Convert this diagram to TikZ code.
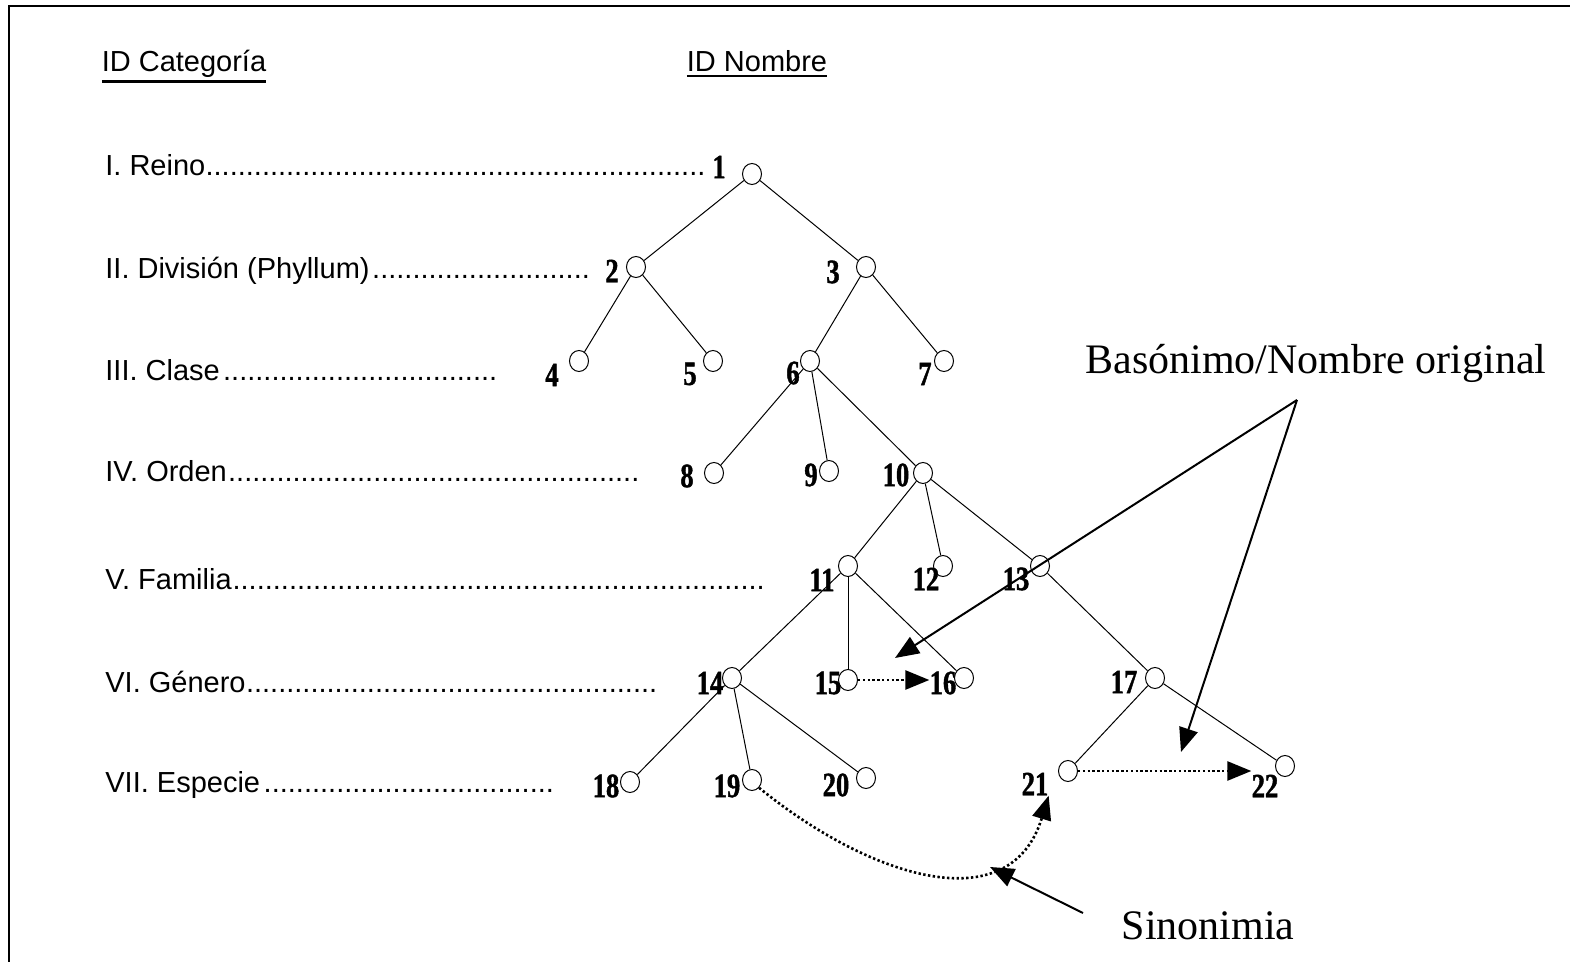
\documentclass[tikz,border=0pt]{standalone}
\usepackage{fontspec}
\setmainfont{Liberation Serif}
\newfontfamily\catfont{Liberation Sans}
\newfontfamily\numfont[FakeStretch=0.78,FakeBold=1.2]{Liberation Serif}
\usetikzlibrary{shapes.geometric,arrows.meta}
\newcommand{\dotrow}[2]{\makebox[#1][l]{#2\cleaders\hbox{.}\hfill}}
\newcommand{\hdr}[1]{\vtop{\hbox{#1}\kern1.2pt\hrule height 1.1pt}}

\begin{document}
\begin{tikzpicture}[x=0.5pt,y=-0.5pt,
    vert/.style={draw,ellipse,inner sep=0pt,minimum width=9.5pt,minimum height=10.5pt,line width=0.5pt},
    num/.style={inner sep=0pt,font=\numfont\bfseries\fontsize{17}{17}\selectfont},
    cat/.style={anchor=base west,inner sep=0pt,font=\catfont\fontsize{14.5}{17}\selectfont},
    note/.style={anchor=base,inner sep=0pt,font=\fontsize{21}{24}\selectfont},
    edge/.style={line width=0.5pt},
    syn/.style={line width=1.3pt,dash pattern=on 1.2pt off 1.2pt,-{Triangle[length=12pt,width=9.5pt]}},
    pointer/.style={line width=1pt,-{Triangle[length=12pt,width=9.5pt]}}]
    \useasboundingbox (0,0) rectangle (1570,962);
    \draw [line width=1.2pt] (9,962) -- (9,6) -- (1570,6);

    \node [cat,anchor=base] (hcat) at (184,72) {\hdr{ID Categoría}};
    \node [cat,anchor=base] (hnom) at (757,72) {\hdr{ID Nombre}};

    \node [cat] (r1) at (105,176) {\dotrow{300pt}{I. Reino}};
    \node [cat] (r2) at (105,279) {\dotrow{243.5pt}{II. División (Phyllum)}};
    \node [cat] (r3) at (105,381) {\dotrow{197.5pt}{III. Clase}};
    \node [cat] (r4) at (105,482) {\dotrow{267.5pt}{IV. Orden}};
    \node [cat] (r5) at (105,589) {\dotrow{330pt}{V. Familia}};
    \node [cat] (r6) at (105,692) {\dotrow{276pt}{VI. Género}};
    \node [cat] (r7) at (105,792) {\dotrow{226pt}{VII. Especie}};

    \foreach \i/\x/\y in {1/752/174, 2/636/267, 3/866/267, 4/579/361, 5/713/361,
        6/810/361, 7/944/361, 8/714/473, 9/829/471, 10/923/473, 11/848/566,
        12/943/566, 13/1040/566, 14/732/678, 15/848/680, 16/964/678,
        17/1155/678, 18/630/782, 19/752/780, 20/866/778, 21/1068/771, 22/1285/766}
        \node [vert] (n\i) at (\x,\y) {};
    \foreach \i/\x/\y in {1/719/167, 2/612/271, 3/833/272, 4/552/375, 5/690/374,
        6/793/373, 7/925/374, 8/687/476, 9/811/475, 10/896/475, 11/822/580,
        12/926/579, 13/1016/579, 14/710/683, 15/828/683, 16/943/683,
        17/1124/682, 18/606/786, 19/727/786, 20/836/785, 21/1035/784, 22/1265/786}
        \node [num] (l\i) at (\x,\y) {\i};

    \foreach \a/\b in {1/2, 1/3, 2/4, 2/5, 3/6, 3/7, 6/8, 6/9, 6/10, 10/11, 10/12,
        10/13, 11/14, 11/15, 11/16, 13/17, 14/18, 14/19, 14/20, 17/21, 17/22}
        \draw [edge] (n\a) -- (n\b);

    \draw [syn] (n15.east) -- (n15.east -| l16.west);
    \draw [syn] (n21.east) -- (n21.east -| l22.west);
    \draw [syn] (n19.south east) .. controls (870,878) and (1010,922) .. (l21.south east);

    \node [note] (bas) at (1316,374) {Basónimo/Nombre original};
    \coordinate (basO) at (1297,400);
    \coordinate (basA) at (895,658);
    \coordinate (basB) at (1181,752);
    \draw [pointer] (basO) -- (basA);
    \draw [pointer] (basO) -- (basB);

    \node [note] (sin) at (1208,939) {Sinonimia};
    \coordinate (sinO) at (1083,913);
    \coordinate (sinA) at (990,867);
    \draw [pointer] (sinO) -- (sinA);
\end{tikzpicture}
\end{document}
